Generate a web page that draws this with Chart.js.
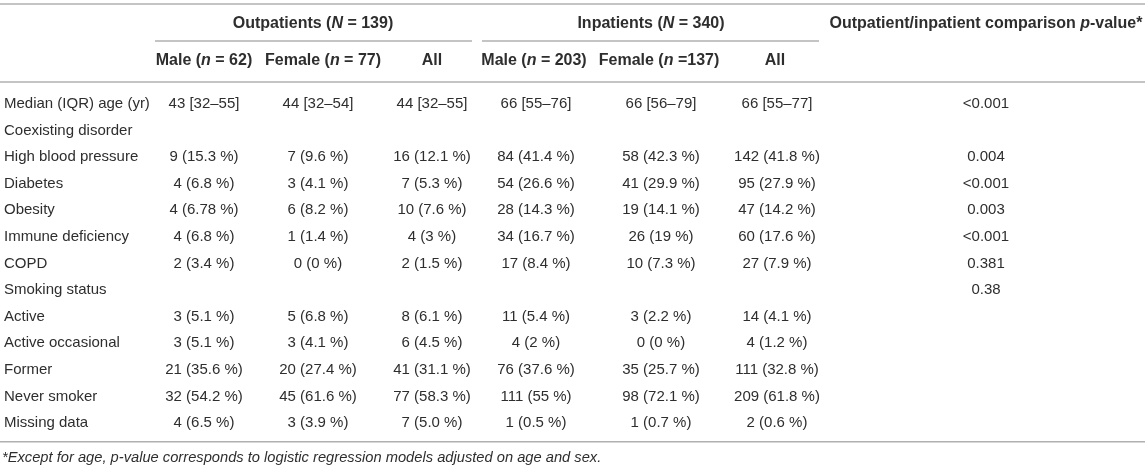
<!DOCTYPE html>
<html>
<head>
<meta charset="utf-8">
<script src="https://cdn.jsdelivr.net/npm/chart.js@4.4.1/dist/chart.umd.min.js"></script>
<style>
  html, body { margin: 0; padding: 0; background: #fff; }
  #wrap { width: 1145px; height: 471px; position: relative; }
</style>
</head>
<body>
<div id="wrap"><canvas id="table"></canvas></div>
<script>
// table content
const rowLabels = ['Median (IQR) age (yr)', 'Coexisting disorder', 'High blood pressure', 'Diabetes', 'Obesity',
  'Immune deficiency', 'COPD', 'Smoking status', 'Active', 'Active occasional', 'Former', 'Never smoker', 'Missing data'];
const outMale = ['43 [32–55]', '', '9 (15.3 %)', '4 (6.8 %)', '4 (6.78 %)', '4 (6.8 %)', '2 (3.4 %)', '',
  '3 (5.1 %)', '3 (5.1 %)', '21 (35.6 %)', '32 (54.2 %)', '4 (6.5 %)'];
const outFemale = ['44 [32–54]', '', '7 (9.6 %)', '3 (4.1 %)', '6 (8.2 %)', '1 (1.4 %)', '0 (0 %)', '',
  '5 (6.8 %)', '3 (4.1 %)', '20 (27.4 %)', '45 (61.6 %)', '3 (3.9 %)'];
const outAll = ['44 [32–55]', '', '16 (12.1 %)', '7 (5.3 %)', '10 (7.6 %)', '4 (3 %)', '2 (1.5 %)', '',
  '8 (6.1 %)', '6 (4.5 %)', '41 (31.1 %)', '77 (58.3 %)', '7 (5.0 %)'];
const inMale = ['66 [55–76]', '', '84 (41.4 %)', '54 (26.6 %)', '28 (14.3 %)', '34 (16.7 %)', '17 (8.4 %)', '',
  '11 (5.4 %)', '4 (2 %)', '76 (37.6 %)', '111 (55 %)', '1 (0.5 %)'];
const inFemale = ['66 [56–79]', '', '58 (42.3 %)', '41 (29.9 %)', '19 (14.1 %)', '26 (19 %)', '10 (7.3 %)', '',
  '3 (2.2 %)', '0 (0 %)', '35 (25.7 %)', '98 (72.1 %)', '1 (0.7 %)'];
const inAll = ['66 [55–77]', '', '142 (41.8 %)', '95 (27.9 %)', '47 (14.2 %)', '60 (17.6 %)', '27 (7.9 %)', '',
  '14 (4.1 %)', '4 (1.2 %)', '111 (32.8 %)', '209 (61.8 %)', '2 (0.6 %)'];
const pValues = ['<0.001', '', '0.004', '<0.001', '0.003', '<0.001', '0.381', '0.38', '', '', '', '', ''];

// headers, _x_ = italic
const groupHeaders = ['Outpatients (_N_ = 139)', 'Inpatients (_N_ = 340)'];
const subHeaders = ['Male (_n_ = 62)', 'Female (_n_ = 77)', 'All', 'Male (_n_ = 203)', 'Female (_n_ =137)', 'All'];
const pHeader = 'Outpatient/inpatient comparison _p_-value*';
const footnote = '_*Except for age, p-value corresponds to logistic regression models adjusted on age and sex._';

// layout: x in canvas px, y in row units
const FONT = "'Liberation Sans', Arial, Helvetica, sans-serif";
const TEXT_COLOR = '#2e2e2e';
const RULE_COLOR = '#b0b0b0';
const colX = [4, 204, 318, 432, 536, 661, 777, 986];
const subHeaderX = [204, 323, 432, 534, 659, 775];
const groupX = [313, 651];
const groupRules = [[155, 472], [482, 819]];
const yTopRule = -3.75, yGroup = -3.0, yGroupRule = -2.36, ySub = -1.61, yHeadRule = -0.82;
const yBottomRule = 12.71, yFootnote = 13.3;

const columns = [rowLabels, outMale, outFemale, outAll, inMale, inFemale, inAll, pValues];

function drawRich(ctx, str, x, y, size, bold, align) {
  const parts = str.split('_');
  const fonts = parts.map((p, k) => (k % 2 ? 'italic ' : '') + (bold ? 'bold ' : '') + size + 'px ' + FONT);
  let total = 0;
  const widths = parts.map((p, k) => {
    ctx.font = fonts[k];
    const w = ctx.measureText(p).width;
    total += w;
    return w;
  });
  let xx = align === 'left' ? x : x - total / 2;
  ctx.textAlign = 'left';
  parts.forEach((p, k) => {
    ctx.font = fonts[k];
    ctx.fillText(p, xx, y);
    xx += widths[k];
  });
}

function hRule(ctx, x1, x2, y) {
  ctx.beginPath();
  ctx.moveTo(x1, y);
  ctx.lineTo(x2, y);
  ctx.stroke();
}

const tablePlugin = {
  id: 'tablePlugin',
  afterDatasetsDraw(chart) {
    const ctx = chart.ctx;
    const sx = chart.scales.x;
    const sy = chart.scales.y;
    ctx.save();

    // rules
    ctx.strokeStyle = RULE_COLOR;
    ctx.lineWidth = 1.5;
    [yTopRule, yHeadRule, yBottomRule].forEach(v => {
      hRule(ctx, sx.getPixelForValue(0), sx.getPixelForValue(1145), sy.getPixelForValue(v));
    });
    groupRules.forEach(r => {
      hRule(ctx, sx.getPixelForValue(r[0]), sx.getPixelForValue(r[1]), sy.getPixelForValue(yGroupRule));
    });

    // headers
    ctx.fillStyle = TEXT_COLOR;
    ctx.textBaseline = 'middle';
    groupHeaders.forEach((h, i) => {
      drawRich(ctx, h, sx.getPixelForValue(groupX[i]), sy.getPixelForValue(yGroup), 16, true, 'center');
    });
    drawRich(ctx, pHeader, sx.getPixelForValue(colX[7]), sy.getPixelForValue(yGroup), 16, true, 'center');
    subHeaders.forEach((h, i) => {
      drawRich(ctx, h, sx.getPixelForValue(subHeaderX[i]), sy.getPixelForValue(ySub), 16, true, 'center');
    });

    // body cells, placed by the point elements
    ctx.font = '15px ' + FONT;
    chart.data.datasets.forEach((ds, i) => {
      ctx.textAlign = ds.align;
      chart.getDatasetMeta(i).data.forEach((pt, j) => {
        const txt = ds.cellText[j];
        if (!txt) return;
        ctx.fillText(txt, pt.x, pt.y);
      });
    });

    drawRich(ctx, footnote, sx.getPixelForValue(2), sy.getPixelForValue(yFootnote), 14.7, false, 'left');
    ctx.restore();
  }
};

const datasets = columns.map((col, c) => ({
  label: 'col' + c,
  data: col.map((t, i) => ({ x: colX[c], y: i })),
  cellText: col,
  align: c === 0 ? 'left' : 'center',
  pointRadius: 0,
  showLine: false
}));

new Chart(document.getElementById('table'), {
  type: 'scatter',
  data: { datasets: datasets },
  options: {
    responsive: true,
    maintainAspectRatio: false,
    animation: false,
    events: [],
    layout: { padding: 0 },
    plugins: { legend: { display: false }, tooltip: { enabled: false } },
    scales: {
      x: { type: 'linear', display: false, min: 0, max: 1145 },
      y: { type: 'linear', display: false, reverse: true, min: -3.902, max: 13.805 }
    }
  },
  plugins: [tablePlugin]
});
</script>
</body>
</html>
